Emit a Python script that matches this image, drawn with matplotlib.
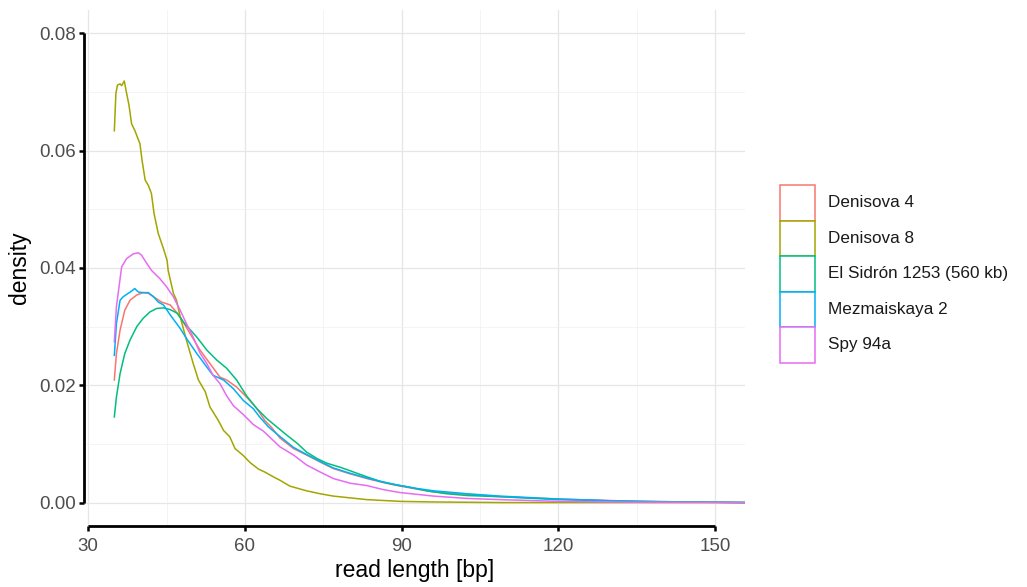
import matplotlib
matplotlib.use("Agg")
import matplotlib.pyplot as plt
from matplotlib.patches import Rectangle
from matplotlib.ticker import MultipleLocator

plt.rcParams['font.family'] = ['Liberation Sans', 'DejaVu Sans']

# ---------------- data ----------------
series_names = ["Denisova 4", "Denisova 8", "El Sidrón 1253 (560 kb)",
                "Mezmaiskaya 2", "Spy 94a"]
series_colors = ["#F8766D", "#A3A500", "#00BF7D", "#00B0F6", "#E76BF3"]

den4_x = [35, 35.4, 36.1, 37, 38, 39.3, 40.5, 41.5, 42.5, 44, 45.7, 47.6, 49.5,
          51.4, 53.3, 55.2, 56.5, 58.4, 60.3, 62.3, 63.8, 65.1, 66.7, 69.3, 71.8,
          74.4, 76.9, 80.1, 83.3, 86.5, 89.7, 92.9, 96.1, 102.5, 108.8, 120, 135, 155.7]
den4_y = [0.0209, 0.0254, 0.0294, 0.0328, 0.0345, 0.0354, 0.0358, 0.0357, 0.0351,
          0.0342, 0.0337, 0.0317, 0.0288, 0.0260, 0.0237, 0.0214, 0.0209, 0.0197,
          0.0180, 0.0160, 0.0140, 0.0128, 0.0110, 0.0092, 0.0081, 0.0069, 0.0058,
          0.0049, 0.0041, 0.0034, 0.0028, 0.0023, 0.0018, 0.0014, 0.0010, 0.0006,
          0.0002, 0.0]

den8_x = [35, 35.3, 35.6, 36.1, 36.4, 36.9, 37.35, 37.8, 38.3, 38.9, 39.9, 40.3,
          40.9, 41.5, 42.1, 42.6, 43.4, 44.4, 45.1, 45.3, 46.3, 46.9, 47.6, 48.8,
          50.1, 51.1, 52.4, 53.3, 54.9, 55.9, 57.1, 58.1, 59.7, 61.0, 62.6, 63.8,
          65.4, 66.7, 68.6, 71.8, 74.4, 76.9, 80.1, 83.3, 89.7, 96, 108.8, 155.7]
den8_y = [0.0634, 0.0698, 0.0712, 0.0714, 0.0711, 0.0719, 0.0698, 0.0678, 0.0646,
          0.0635, 0.0612, 0.0584, 0.0550, 0.0541, 0.0527, 0.0493, 0.0459, 0.0433,
          0.0413, 0.0396, 0.0357, 0.0345, 0.0317, 0.0277, 0.0237, 0.0209, 0.0189,
          0.0163, 0.0140, 0.0123, 0.0112, 0.0092, 0.0080, 0.0068, 0.0057, 0.0052,
          0.0044, 0.0038, 0.0028, 0.0020, 0.0015, 0.0011, 0.0008, 0.0005, 0.0002,
          0.0001, 0.0, 0.0]

sidron_x = [35, 35.4, 36.1, 37, 38, 39.3, 40.5, 41.8, 43.1, 44.4, 45.7, 47, 48.2,
            49.5, 50.8, 52.7, 54.6, 56.5, 58.4, 60.3, 62.3, 64.2, 66.1, 68, 70,
            71.8, 73.8, 75.7, 78.3, 80.8, 83.3, 85.9, 88.4, 91, 94.8, 98.6, 102.5,
            108.8, 120, 135, 155.7]
sidron_y = [0.0146, 0.0180, 0.0220, 0.0254, 0.0277, 0.0300, 0.0314, 0.0325, 0.0331,
            0.0332, 0.0329, 0.0323, 0.0308, 0.0295, 0.0282, 0.0260, 0.0243, 0.0229,
            0.0209, 0.0182, 0.0160, 0.0143, 0.0129, 0.0115, 0.0101, 0.0086, 0.0075,
            0.0067, 0.0060, 0.0052, 0.0044, 0.0036, 0.0031, 0.0027, 0.0020, 0.0015,
            0.0012, 0.0010, 0.0005, 0.0002, 0.0]

mez_x = [35, 35.4, 36.1, 36.7, 37.7, 38.5, 38.9, 39.6, 40.5, 41.5, 42.5, 43.4,
         44.4, 45.7, 47.6, 48.8, 50.8, 52.7, 53.9, 55.9, 57.8, 59.7, 61.6, 62.9,
         64.5, 66.1, 69.3, 71.8, 74.4, 76.9, 80.1, 83.3, 86.5, 89.7, 92.9, 96.1,
         102.5, 108.8, 120, 130, 141, 155.7]
mez_y = [0.0251, 0.0305, 0.0345, 0.0351, 0.0357, 0.0362, 0.0365, 0.0359, 0.0358,
         0.0358, 0.0351, 0.0342, 0.0337, 0.0320, 0.0297, 0.0280, 0.0254, 0.0231,
         0.0217, 0.0209, 0.0194, 0.0174, 0.0160, 0.0145, 0.0129, 0.0117, 0.0094,
         0.0082, 0.0070, 0.0059, 0.0050, 0.0042, 0.0035, 0.0029, 0.0024, 0.0020,
         0.0015, 0.0011, 0.0006, 0.0003, 0.0001, 0.0]

spy_x = [35, 35.4, 36.4, 37.35, 38.6, 39.6, 40.2, 41.2, 42.1, 43.7, 45, 46.3, 47.6,
         48.8, 50.1, 51.4, 52.7, 53.9, 55.2, 56.5, 57.8, 59.7, 61.6, 63.5, 65.4,
         66.7, 69.3, 71.8, 74.4, 76.9, 80.1, 83.3, 86.5, 89.7, 92.9, 96.1, 102.5,
         108.8, 120, 135, 155.7]
spy_y = [0.0274, 0.0334, 0.0402, 0.0416, 0.0424, 0.0426, 0.0422, 0.0408, 0.0396,
         0.0382, 0.0368, 0.0351, 0.0328, 0.0305, 0.0282, 0.0255, 0.0237, 0.0217,
         0.0203, 0.0182, 0.0165, 0.0150, 0.0133, 0.0122, 0.0106, 0.0095, 0.0081,
         0.0064, 0.0052, 0.0041, 0.0033, 0.0029, 0.0022, 0.0017, 0.0014, 0.0011,
         0.0007, 0.0005, 0.0002, 0.00005, 0.0]

x_ticks = [30, 60, 90, 120, 150]
y_ticks = [0.00, 0.02, 0.04, 0.06, 0.08]
y_tick_labels = ["0.00", "0.02", "0.04", "0.06", "0.08"]

xs = [den4_x, den8_x, sidron_x, mez_x, spy_x]
ys = [den4_y, den8_y, sidron_y, mez_y, spy_y]

# ---------------- figure ----------------
W, H = 1027, 587
fig = plt.figure(figsize=(W / 100, H / 100), dpi=100)
left, right, top, bottom = 83.5, 745, 10, 526
ax = fig.add_axes([left / W, 1 - bottom / H, (right - left) / W, (bottom - top) / H])

for x, y, c in zip(xs, ys, series_colors):
    ax.plot(x, y, color=c, lw=1.1, solid_joinstyle='round')

ax.set_xlim(29.1, 155.7)
ax.set_ylim(-0.004, 0.084)

ax.set_xticks(x_ticks)
ax.set_xticklabels([str(t) for t in x_ticks])
ax.set_yticks(y_ticks)
ax.set_yticklabels(y_tick_labels)
ax.xaxis.set_minor_locator(MultipleLocator(15))
ax.yaxis.set_minor_locator(MultipleLocator(0.01))

ax.grid(which='major', color='#E6E6E6', lw=0.9)
ax.grid(which='minor', color='#F0F0F0', lw=0.5)
ax.set_axisbelow(True)

for s in ['top', 'right']:
    ax.spines[s].set_visible(False)
ax.spines['left'].set_bounds(0, 0.08)
ax.spines['bottom'].set_bounds(30, 150)
for s in ['left', 'bottom']:
    ax.spines[s].set_linewidth(2.0)
    ax.spines[s].set_color('black')
    ax.spines[s].set_capstyle('butt')

ax.tick_params(which='major', length=3.5, width=1.8, color='black',
               labelsize=13.5, labelcolor='#4D4D4D')
ax.tick_params(axis='y', pad=2)
ax.tick_params(axis='x', pad=5)
ax.tick_params(which='minor', length=0)

ax.set_xlabel("read length [bp]", fontsize=16.5, color='black', labelpad=3)
ax.set_ylabel("density", fontsize=16.5, color='black', labelpad=6)

# ---------------- legend (drawn as figure artists) ----------------
key_left, key_w, key_top, key_h = 780, 35, 185, 35.5
for i, (name, c) in enumerate(zip(series_names, series_colors)):
    y0 = key_top + i * key_h
    fig.add_artist(Rectangle((key_left / W, 1 - (y0 + key_h) / H), key_w / W, key_h / H,
                             transform=fig.transFigure, facecolor='white',
                             edgecolor=c, lw=1.1))
    fig.text(828 / W, 1 - (y0 + key_h / 2) / H, name, fontsize=12.3,
             color='#1A1A1A', va='center', ha='left')

fig.savefig("out.png", dpi=100, facecolor='white')
